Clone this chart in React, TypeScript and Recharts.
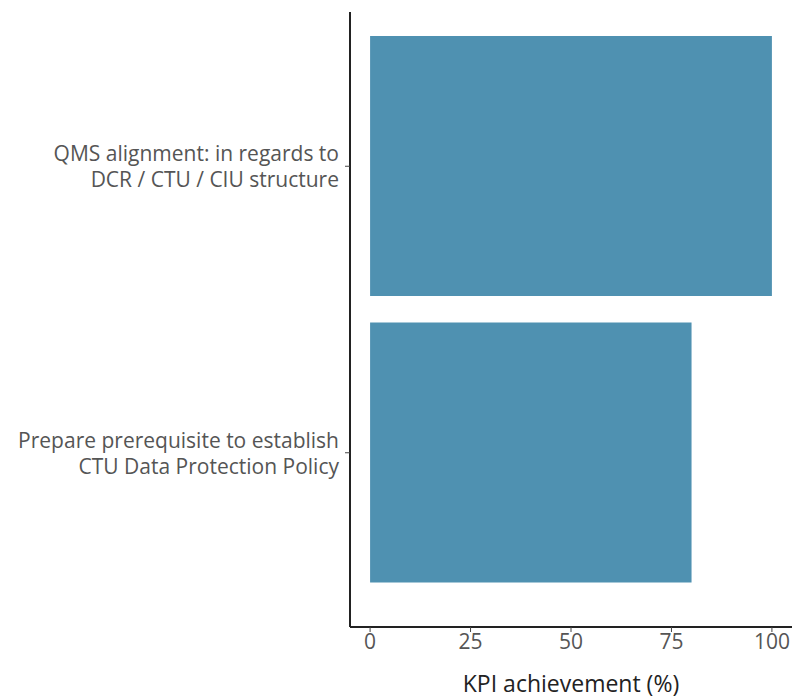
import { BarChart, Bar, XAxis, YAxis } from "recharts";

const categories = [
  "QMS alignment: in regards to\nDCR / CTU / CIU structure",
  "Prepare prerequisite to establish\nCTU Data Protection Policy",
];
const achievement = [100, 80];
const xTicks = [0, 25, 50, 75, 100];

const data = categories.map((name, i) => ({ name, value: achievement[i] }));

const FONT = "'Open Sans', sans-serif";
const TEXT = "#555555";

// two-line category labels in one text element
const CategoryTick = (props: any) => {
  const { x, y, payload } = props;
  const lines = String(payload.value).split("\n");
  return (
    <text
      x={x - 4}
      y={y - 5}
      textAnchor="end"
      fill={TEXT}
      fontSize={21}
      fontFamily={FONT}
    >
      {lines.map((line: string, i: number) => (
        <tspan key={i} x={x - 4} dy={i === 0 ? 0 : 26}>
          {line}
        </tspan>
      ))}
    </text>
  );
};

export default function App() {
  return (
    <div style={{ position: "absolute", left: 0, top: 0, background: "#fff" }}>
      <BarChart
        width={795}
        height={698}
        data={data}
        layout="vertical"
        margin={{ top: 12, right: 3, bottom: 0, left: 0 }}
      >
        <XAxis
          type="number"
          domain={[-5, 105]}
          ticks={xTicks}
          allowDataOverflow
          height={71}
          axisLine={{ stroke: "#222", strokeWidth: 2 }}
          tickLine={{ stroke: "#444" }}
          tickSize={5}
          tick={{ fill: TEXT, fontSize: 21, fontFamily: FONT }}
          label={{
            value: "KPI achievement (%)",
            position: "insideBottom",
            offset: 6,
            fill: "#222",
            fontSize: 23,
            fontFamily: FONT,
          }}
        />
        <YAxis
          type="category"
          dataKey="name"
          width={350}
          padding={{ top: 11, bottom: 31 }}
          axisLine={{ stroke: "#222", strokeWidth: 2 }}
          tickLine={{ stroke: "#444" }}
          tickSize={5}
          tick={<CategoryTick />}
          interval={0}
        />
        <Bar
          dataKey="value"
          fill="#4f91b1"
          barSize={260}
          isAnimationActive={false}
        />
      </BarChart>
    </div>
  );
}
